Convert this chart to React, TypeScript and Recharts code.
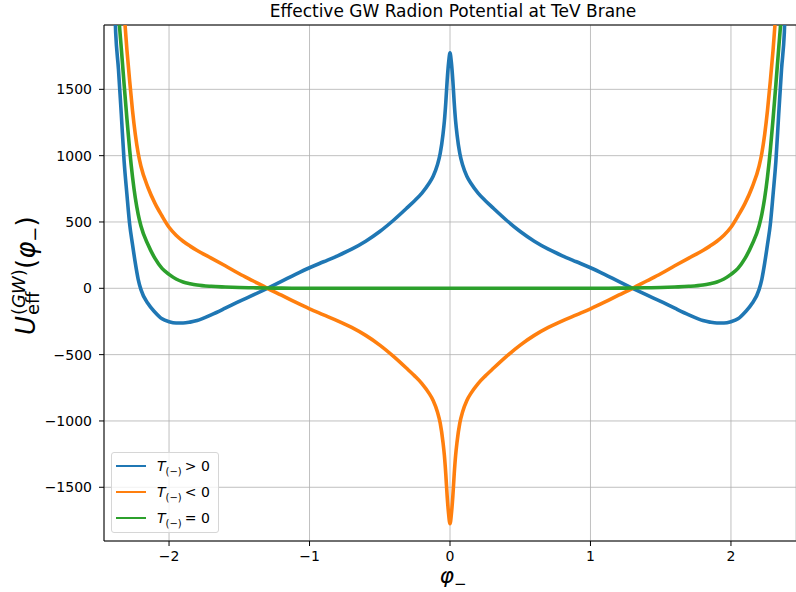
import React from 'react';
import { LineChart, Line, XAxis, YAxis, CartesianGrid, Legend, ReferenceLine } from 'recharts';

// phi_- sample points
const phi = [
  -2.4, -2.38, -2.36, -2.34, -2.32, -2.3, -2.28, -2.26, -2.24, -2.22, -2.2, -2.15, -2.1, -2.05, -2.0,
  -1.95, -1.9, -1.85, -1.8, -1.7, -1.6, -1.5, -1.4, -1.3, -1.2, -1.1, -1.0, -0.9, -0.8, -0.7, -0.6,
  -0.5, -0.4, -0.3, -0.25, -0.2, -0.15, -0.12, -0.09, -0.07, -0.05, -0.04, -0.03, -0.02, -0.01,
  0,
  0.01, 0.02, 0.03, 0.04, 0.05, 0.07, 0.09, 0.12, 0.15, 0.2, 0.25, 0.3, 0.4, 0.5,
  0.6, 0.7, 0.8, 0.9, 1.0, 1.1, 1.2, 1.3, 1.4, 1.5, 1.6, 1.7, 1.8, 1.85, 1.9, 1.95,
  2.0, 2.05, 2.1, 2.15, 2.2, 2.22, 2.24, 2.26, 2.28, 2.3, 2.32, 2.34, 2.36, 2.38, 2.4,
];

// T(-) > 0
const tPositive = [
  2600, 1930, 1650, 1315, 960, 710, 480, 330, 190, 70, -10, -115, -180, -230, -252,
  -262, -262, -255, -243, -200, -150, -98, -50, 0, 52, 105, 155, 200, 245, 295, 355,
  428, 515, 612, 662, 718, 790, 845, 930, 1015, 1160, 1260, 1400, 1570, 1700,
  1775,
  1700, 1570, 1400, 1260, 1160, 1015, 930, 845, 790, 718, 662, 612, 515, 428,
  355, 295, 245, 200, 155, 105, 52, 0, -50, -98, -150, -200, -243, -255, -262, -262,
  -252, -230, -180, -115, -10, 70, 190, 330, 480, 710, 960, 1315, 1650, 1930, 2600,
];

// T(-) < 0
const tNegative = [
  5000, 3800, 3000, 2400, 2080, 1800, 1560, 1340, 1160, 1020, 920, 760, 640, 545, 460,
  400, 355, 318, 285, 228, 170, 110, 55, 0, -52, -105, -155, -200, -245, -295, -355,
  -428, -515, -612, -662, -718, -790, -845, -930, -1015, -1160, -1260, -1400, -1570, -1700,
  -1775,
  -1700, -1570, -1400, -1260, -1160, -1015, -930, -845, -790, -718, -662, -612, -515, -428,
  -355, -295, -245, -200, -155, -105, -52, 0, 55, 110, 170, 228, 285, 318, 355, 400,
  460, 545, 640, 760, 920, 1020, 1160, 1340, 1560, 1800, 2080, 2400, 3000, 3800, 5000,
];

// T(-) = 0
const tZero = [
  3200, 2600, 2100, 1810, 1540, 1280, 1040, 840, 680, 560, 470, 330, 225, 150, 105,
  70, 48, 35, 25, 15, 10, 6, 4, 2, 1, 0, 0, 0, 0, 0, 0,
  0, 0, 0, 0, 0, 0, 0, 0, 0, 0, 0, 0, 0, 0,
  0,
  0, 0, 0, 0, 0, 0, 0, 0, 0, 0, 0, 0, 0, 0,
  0, 0, 0, 0, 0, 0, 1, 2, 4, 6, 10, 15, 25, 35, 48, 70,
  105, 150, 225, 330, 470, 560, 680, 840, 1040, 1280, 1540, 1810, 2100, 2600, 3200,
];

const xTicks = [-2, -1, 0, 1, 2];
const yTicks = [-1500, -1000, -500, 0, 500, 1000, 1500];

const SERIES = [
  { key: 'pos', color: '#1f77b4', rel: '>' },
  { key: 'neg', color: '#ff7f0e', rel: '<' },
  { key: 'zero', color: '#2ca02c', rel: '=' },
];

const rows = phi.map((p, i) => ({ phi: p, pos: tPositive[i], neg: tNegative[i], zero: tZero[i] }));

const FONT = '"DejaVu Sans", Verdana, sans-serif';
const fmt = (v: number) => (v < 0 ? `\u2212${Math.abs(v)}` : `${v}`);

const renderLegend = () => (
  <div
    style={{
      background: 'rgba(255,255,255,0.8)',
      border: '1px solid #d6d6d6',
      borderRadius: 3,
      padding: '0 8px 1px 4px',
      fontFamily: FONT,
      fontSize: 14,
      color: '#000',
    }}
  >
    {SERIES.map((s) => (
      <div key={s.key} style={{ display: 'flex', alignItems: 'center', height: 26 }}>
        <svg width={30} height={4}>
          <line x1={0} y1={2} x2={30} y2={2} stroke={s.color} strokeWidth={2} />
        </svg>
        <span style={{ marginLeft: 11, whiteSpace: 'nowrap' }}>
          <i>T</i>
          <span style={{ fontSize: 10, position: 'relative', top: 4 }}>(−)</span>
          <span style={{ marginLeft: 3 }}>{s.rel} 0</span>
        </span>
      </div>
    ))}
  </div>
);

const XLabel = ({ viewBox }: any) => {
  const cx = viewBox.x + viewBox.width / 2;
  return (
    <text x={cx + 3} y={583} textAnchor="middle" fontFamily={FONT} fontSize={22} fill="#000">
      <tspan fontStyle="italic">φ</tspan>
      <tspan fontSize={15} dy={6}>−</tspan>
    </text>
  );
};

const YLabel = () => (
  <text transform="translate(22,283) rotate(-90)" fontFamily={FONT} fill="#000">
    <tspan x={-52} y={13} fontSize={26} fontStyle="italic">U</tspan>
    <tspan x={-32} y={3} fontSize={18}>(</tspan>
    <tspan fontSize={18} fontStyle="italic">GW</tspan>
    <tspan fontSize={18}>)</tspan>
    <tspan x={-32} y={17} fontSize={18}>eff</tspan>
    <tspan x={14} y={13} fontSize={26}>(</tspan>
    <tspan fontSize={26} fontStyle="italic">φ</tspan>
    <tspan fontSize={18} dy={6}>−</tspan>
    <tspan fontSize={26} dy={-6}>)</tspan>
  </text>
);

export default function App() {
  return (
    <div style={{ position: 'absolute', left: 0, top: 0, width: 796, height: 592, background: '#fff' }}>
      <div
        style={{
          position: 'absolute',
          left: 104,
          width: 698,
          top: 3,
          textAlign: 'center',
          fontFamily: FONT,
          fontSize: 17,
          lineHeight: 1,
          color: '#000',
          zIndex: 2,
        }}
      >
        Effective GW Radion Potential at TeV Brane
      </div>
      <LineChart width={796} height={592} data={rows} margin={{ top: 25, right: 0, left: 0, bottom: 0 }}>
        <CartesianGrid stroke="#b0b0b0" strokeWidth={0.8} />
        <XAxis
          dataKey="phi"
          type="number"
          domain={[-2.463, 2.463]}
          ticks={xTicks}
          allowDataOverflow
          height={51}
          tickFormatter={fmt}
          tickSize={5}
          tickMargin={5}
          stroke="#000"
          tick={{ fill: '#000', fontSize: 14, fontFamily: FONT }}
          label={{ content: XLabel }}
        />
        <YAxis
          type="number"
          domain={[-1905, 1985]}
          ticks={yTicks}
          allowDataOverflow
          width={104}
          tickFormatter={fmt}
          tickSize={5}
          tickMargin={7}
          stroke="#000"
          tick={{ fill: '#000', fontSize: 14, fontFamily: FONT }}
          label={{ content: YLabel }}
        />
        <ReferenceLine y={1985} stroke="#000" strokeWidth={1} />
        {SERIES.map((s) => (
          <Line
            key={s.key}
            dataKey={s.key}
            type="monotone"
            stroke={s.color}
            strokeWidth={3.6}
            dot={false}
            isAnimationActive={false}
          />
        ))}
        <Legend
          layout="vertical"
          align="center"
          verticalAlign="middle"
          content={renderLegend}
          wrapperStyle={{ left: 111, top: 452, width: 'auto', height: 'auto' }}
        />
      </LineChart>
    </div>
  );
}
